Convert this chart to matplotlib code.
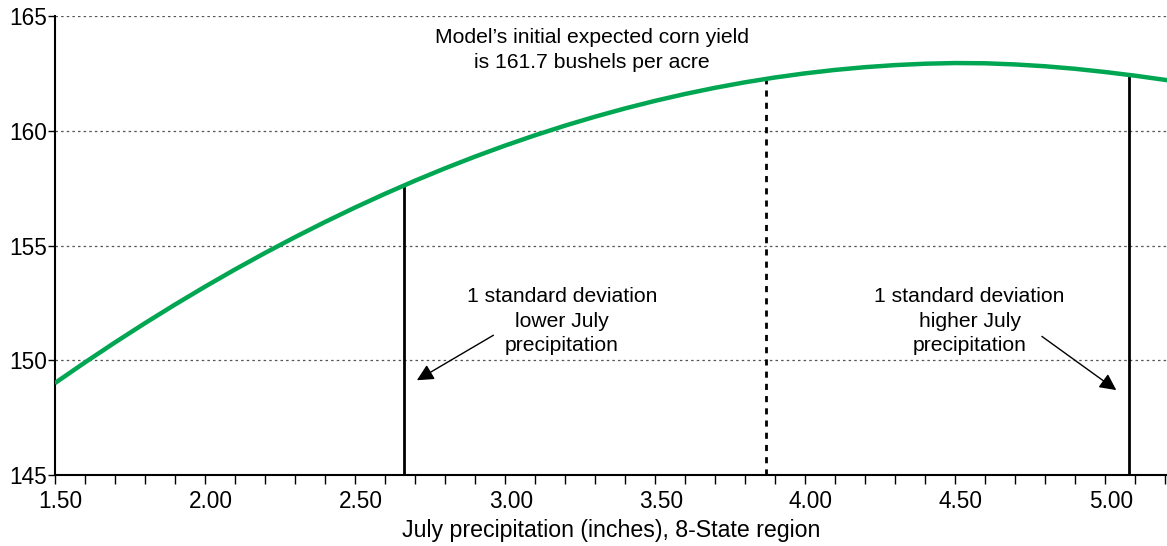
import matplotlib
matplotlib.use("Agg")
import matplotlib.pyplot as plt
from matplotlib.ticker import MultipleLocator, FormatStrFormatter
import matplotlib.transforms as mtransforms

plt.rcParams['font.family'] = ['Liberation Sans', 'DejaVu Sans']

# Curve: July precipitation (inches) vs expected corn yield (bu/acre)
precip = [1.50, 1.60, 1.70, 1.80, 1.90, 2.00, 2.10, 2.20, 2.30, 2.40,
          2.50, 2.60, 2.70, 2.80, 2.90, 3.00, 3.10, 3.20, 3.30, 3.40,
          3.50, 3.60, 3.70, 3.80, 3.90, 4.00, 4.10, 4.20, 4.30, 4.40,
          4.50, 4.60, 4.70, 4.80, 4.90, 5.00, 5.10, 5.21]
yield_bu = [149.00, 149.90, 150.77, 151.61, 152.42, 153.20, 153.95, 154.67, 155.36, 156.02,
            156.65, 157.25, 157.82, 158.36, 158.87, 159.35, 159.80, 160.22, 160.61, 160.97,
            161.30, 161.60, 161.87, 162.11, 162.32, 162.50, 162.65, 162.77, 162.86, 162.92,
            162.95, 162.94, 162.89, 162.81, 162.70, 162.56, 162.40, 162.20]

# Reference lines: lower SD, mean, higher SD
ref_x = [2.665, 3.87, 5.08]
ref_y = [157.6, 162.28, 162.38]
ref_style = ['solid', 'dashed', 'solid']

x_ticks = [1.5, 2.0, 2.5, 3.0, 3.5, 4.0, 4.5, 5.0]
y_ticks = [145, 150, 155, 160, 165]

title_text = "Model\u2019s initial expected corn yield\nis 161.7 bushels per acre"
low_text = "1 standard deviation\nlower July\nprecipitation"
high_text = "1 standard deviation\nhigher July\nprecipitation"
x_label = "July precipitation (inches), 8-State region"

fig = plt.figure(figsize=(11.67, 5.46), dpi=100)
ax = fig.add_axes([0.0469, 0.130, 0.9531, 0.8407])

ax.set_xlim(1.5, 5.207)
ax.set_ylim(145, 165)

for y in y_ticks[1:]:
    ax.axhline(y, color='#555555', lw=0.9, ls=(0, (2, 2.5)), zorder=1)

for xv, yv, st in zip(ref_x, ref_y, ref_style):
    if st == 'dashed':
        ax.plot([xv, xv], [145, yv], color='black', lw=2, ls=(0, (2.2, 2.2)), zorder=2)
    else:
        ax.plot([xv, xv], [145, yv], color='black', lw=2, zorder=2)

ax.plot(precip, yield_bu, color='#00a651', lw=3.2, zorder=3, solid_capstyle='butt')

ax.spines['top'].set_visible(False)
ax.spines['right'].set_visible(False)
ax.spines['left'].set_linewidth(1.5)
ax.spines['bottom'].set_linewidth(1.5)

ax.xaxis.set_minor_locator(MultipleLocator(0.1))
ax.set_xticks(x_ticks)
ax.xaxis.set_major_formatter(FormatStrFormatter('%.2f'))
ax.set_yticks(y_ticks)
ax.tick_params(axis='x', which='both', direction='out', length=6.5, width=1, labelsize=16.3, pad=4.5)
ax.tick_params(axis='y', which='major', direction='out', length=5, width=1, labelsize=16.3, pad=0.5)

offset = mtransforms.ScaledTranslation(6 / 100, 0, fig.dpi_scale_trans)
for lbl in ax.get_xticklabels():
    lbl.set_transform(lbl.get_transform() + offset)

ax.set_xlabel(x_label, fontsize=16.7, labelpad=3.8)

ax.text(3.29, 163.52, title_text, ha='center', va='center', fontsize=15.2, linespacing=1.38)
ax.text(3.19, 151.7, low_text, ha='center', va='center', fontsize=15.2, linespacing=1.36)
ax.text(4.549, 151.7, high_text, ha='center', va='center', fontsize=15.2, linespacing=1.36)

arrow_style = dict(arrowstyle='-|>,head_length=0.5,head_width=0.25', color='black',
                   lw=1, mutation_scale=20, shrinkA=0, shrinkB=0)
ax.annotate('', xy=(2.707, 149.13), xytext=(2.962, 151.09), arrowprops=arrow_style)
ax.annotate('', xy=(5.038, 148.7), xytext=(4.79, 151.04), arrowprops=arrow_style)

fig.savefig('out.png', dpi=100)
